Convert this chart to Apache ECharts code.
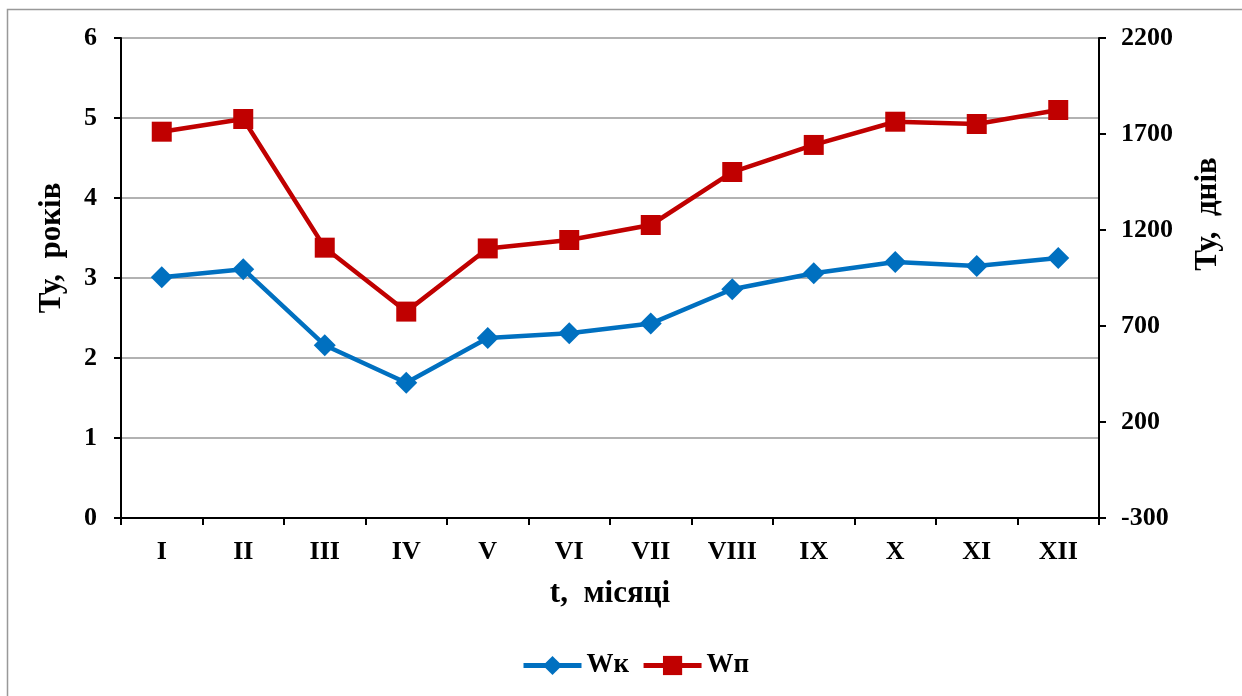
<!DOCTYPE html>
<html>
<head>
<meta charset="utf-8">
<script src="https://cdn.jsdelivr.net/npm/echarts@6/dist/echarts.min.js"></script>
<style>
  html, body { margin: 0; padding: 0; background: #fff; }
  #chart { width: 1242px; height: 696px; }
</style>
</head>
<body>
<div id="chart"></div>
<script>
// місяці
const months = ['I', 'II', 'III', 'IV', 'V', 'VI', 'VII', 'VIII', 'IX', 'X', 'XI', 'XII'];
// Wк, років (ліва вісь)
const wk = [3.01, 3.11, 2.16, 1.69, 2.25, 2.31, 2.43, 2.86, 3.06, 3.20, 3.15, 3.25];
// Wп, днів (права вісь)
const wp = [1712, 1778, 1108, 775, 1104, 1148, 1226, 1502, 1643, 1764, 1752, 1825];
// підписи правої осі
const rightTicks = [-300, 200, 700, 1200, 1700, 2200];

const font = '"Liberation Serif", "Times New Roman", serif';
const blue = '#0070C0';
const red = '#C00000';

const myChart = echarts.init(document.getElementById('chart'));
myChart.setOption({
    animation: false,
    textStyle: { fontFamily: font },
    grid: { left: 121, right: 143, top: 38, bottom: 178 },
    graphic: [
        {
            type: 'rect',
            shape: { x: 7.5, y: 9.5, width: 1240, height: 700 },
            style: { fill: 'none', stroke: '#999', lineWidth: 1.5 },
            silent: true
        },
        {
            type: 'text',
            x: 52, y: 248, rotation: Math.PI / 2,
            style: {
                text: 'Ту,  років', fontFamily: font, fontWeight: 'bold', fontSize: 31,
                fill: '#000', align: 'center', verticalAlign: 'middle'
            }
        },
        {
            type: 'text',
            x: 1208, y: 214, rotation: Math.PI / 2,
            style: {
                text: 'Ту,  днів', fontFamily: font, fontWeight: 'bold', fontSize: 31,
                fill: '#000', align: 'center', verticalAlign: 'middle'
            }
        },
        {
            type: 'text',
            x: 610, y: 594,
            style: {
                text: 't,  місяці', fontFamily: font, fontWeight: 'bold', fontSize: 31,
                fill: '#000', align: 'center', verticalAlign: 'middle'
            }
        }
    ],
    legend: {
        top: 647,
        left: 516,
        itemWidth: 58,
        itemHeight: 24,
        itemGap: 12,
        lineStyle: { width: 5 },
        textStyle: { fontFamily: font, fontWeight: 'bold', fontSize: 27, color: '#000' },
        data: ['Wк', 'Wп']
    },
    xAxis: {
        type: 'category',
        data: months,
        boundaryGap: true,
        axisLine: { lineStyle: { color: '#000', width: 2 } },
        axisTick: { show: true, length: 7, lineStyle: { color: '#000', width: 2 } },
        axisLabel: { color: '#000', fontFamily: font, fontWeight: 'bold', fontSize: 26, margin: 21 },
        splitLine: { show: false }
    },
    yAxis: [
        {
            type: 'value',
            min: 0,
            max: 6,
            interval: 1,
            axisLine: { show: true, lineStyle: { color: '#000', width: 2 } },
            axisTick: { show: true, length: 7, lineStyle: { color: '#000', width: 2 } },
            axisLabel: { color: '#000', fontFamily: font, fontWeight: 'bold', fontSize: 26, margin: 24 },
            splitLine: { show: true, lineStyle: { color: '#999', width: 1.5 } }
        },
        {
            type: 'value',
            position: 'right',
            min: -300,
            max: 2200,
            axisLine: { show: true, lineStyle: { color: '#000', width: 2 } },
            axisTick: { show: true, length: 7, customValues: rightTicks, lineStyle: { color: '#000', width: 2 } },
            axisLabel: {
                color: '#000', fontFamily: font, fontWeight: 'bold', fontSize: 26, margin: 22,
                customValues: rightTicks,
                formatter: v => String(v)
            },
            splitLine: { show: false }
        }
    ],
    series: [
        {
            name: 'Wк',
            type: 'line',
            yAxisIndex: 0,
            data: wk,
            symbol: 'diamond',
            symbolSize: 22,
            lineStyle: { color: blue, width: 4.5 },
            itemStyle: { color: blue }
        },
        {
            name: 'Wп',
            type: 'line',
            yAxisIndex: 1,
            data: wp,
            symbol: 'rect',
            symbolSize: 20,
            lineStyle: { color: red, width: 4.5 },
            itemStyle: { color: red }
        }
    ]
});
</script>
</body>
</html>
